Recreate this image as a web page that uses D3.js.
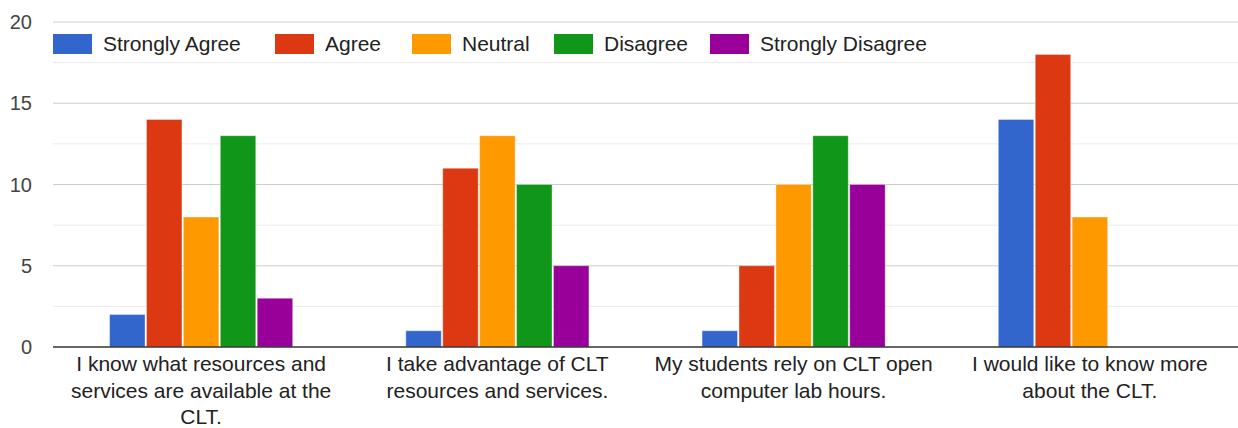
<!DOCTYPE html>
<html>
<head>
<meta charset="utf-8">
<script src="https://cdn.jsdelivr.net/npm/d3@7"></script>
<style>
  body { margin: 0; background: #fff; }
  svg { display: block; font-family: "Liberation Sans", Arial, sans-serif; }
</style>
</head>
<body>
<div id="chart"></div>
<script>
const categories = [
  "I know what resources and services are available at the CLT.",
  "I take advantage of CLT resources and services.",
  "My students rely on CLT open computer lab hours.",
  "I would like to know more about the CLT."
];
const categoryLines = [
  ["I know what resources and", "services are available at the", "CLT."],
  ["I take advantage of CLT", "resources and services."],
  ["My students rely on CLT open", "computer lab hours."],
  ["I would like to know more", "about the CLT."]
];
const seriesNames = ["Strongly Agree", "Agree", "Neutral", "Disagree", "Strongly Disagree"];
const seriesColors = ["#3366cc", "#dc3912", "#ff9900", "#109618", "#990099"];
const stronglyAgree = [2, 1, 1, 14];
const agree = [14, 11, 5, 18];
const neutral = [8, 13, 10, 8];
const disagree = [13, 10, 13, 0];
const stronglyDisagree = [3, 5, 10, 0];
const yTicks = [0, 5, 10, 15, 20];

const seriesValues = [stronglyAgree, agree, neutral, disagree, stronglyDisagree];

const width = 1238, height = 428;
const margin = { top: 22, right: 0, bottom: 81, left: 53 };

const svg = d3.select("#chart").append("svg")
  .attr("width", width).attr("height", height);

const x0 = d3.scaleBand().domain(categories)
  .range([margin.left, width - margin.right]).padding(0);
const groupWidth = x0.bandwidth() * 0.618;
const x1 = d3.scaleBand().domain(seriesNames).range([0, groupWidth]).paddingInner(0.04);
const y = d3.scaleLinear().domain([0, 20]).range([height - margin.bottom, margin.top]);

// minor gridlines
const minor = d3.range(2.5, 20, 5);
svg.append("g").selectAll("line").data(minor).join("line")
  .attr("x1", margin.left).attr("x2", width - margin.right)
  .attr("y1", d => y(d)).attr("y2", d => y(d))
  .attr("stroke", "#ebebeb").attr("stroke-width", 1);

// major gridlines
svg.append("g").selectAll("line").data(yTicks.filter(d => d > 0)).join("line")
  .attr("x1", margin.left).attr("x2", width - margin.right)
  .attr("y1", d => y(d)).attr("y2", d => y(d))
  .attr("stroke", "#cccccc").attr("stroke-width", 1);

// y labels
svg.append("g").selectAll("text").data(yTicks).join("text")
  .attr("x", 32).attr("y", d => y(d)).attr("dy", "0.35em")
  .attr("text-anchor", "end").attr("fill", "#444").style("font-size", "20px")
  .text(d => d);

// bars
const groups = svg.append("g").selectAll("g").data(categories).join("g")
  .attr("transform", c => `translate(${x0(c) + (x0.bandwidth() - groupWidth) / 2},0)`);

groups.selectAll("rect")
  .data((c, i) => seriesNames.map((s, j) => ({ s, j, v: seriesValues[j][i] })).filter(d => d.v > 0))
  .join("rect")
  .attr("x", d => x1(d.s))
  .attr("y", d => y(d.v))
  .attr("width", x1.bandwidth())
  .attr("height", d => y(0) - y(d.v))
  .attr("fill", d => seriesColors[d.j])
  .attr("stroke", "#ffffff").attr("stroke-opacity", 0.35).attr("stroke-width", 1);

// baseline
svg.append("line")
  .attr("x1", margin.left).attr("x2", width - margin.right)
  .attr("y1", y(0)).attr("y2", y(0))
  .attr("stroke", "#333").attr("stroke-width", 1.5);

// x labels
svg.append("g").selectAll("text").data(categories).join("text")
  .attr("x", c => x0(c) + x0.bandwidth() / 2)
  .attr("y", y(0) + 24)
  .attr("text-anchor", "middle").attr("fill", "#222").style("font-size", "21px")
  .selectAll("tspan").data((c, i) => categoryLines[i]).join("tspan")
  .attr("x", function () { return d3.select(this.parentNode).attr("x"); })
  .attr("dy", (d, i) => i === 0 ? 0 : 26.5)
  .text(d => d);

// legend
const legendX = [53, 275, 412, 554, 710];
const legend = svg.append("g").selectAll("g").data(seriesNames).join("g")
  .attr("transform", (d, i) => `translate(${legendX[i]},34)`);
legend.append("rect").attr("width", 39).attr("height", 20)
  .attr("fill", (d, i) => seriesColors[i]);
legend.append("text").attr("x", 50).attr("y", 10).attr("dy", "0.35em")
  .attr("fill", "#222").style("font-size", "21px").text(d => d);
</script>
</body>
</html>
